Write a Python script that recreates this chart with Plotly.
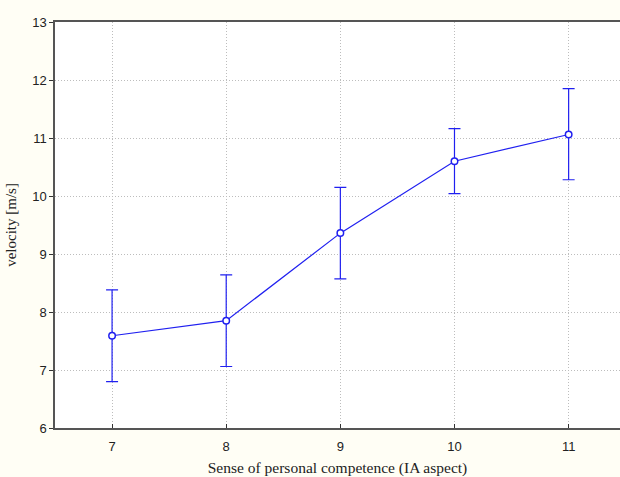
import plotly.graph_objects as go

x_vals = [7, 8, 9, 10, 11]
means = [7.59, 7.85, 9.36, 10.60, 11.06]
upper = [8.38, 8.64, 10.15, 11.16, 11.85]
lower = [6.80, 7.06, 8.57, 10.04, 10.28]
x_ticks = [7, 8, 9, 10, 11]
y_ticks = [6, 7, 8, 9, 10, 11, 12, 13]

err_plus = [u - m for u, m in zip(upper, means)]
err_minus = [m - l for m, l in zip(means, lower)]

blue = "#2020F0"
fig = go.Figure()
fig.add_trace(go.Scatter(
    x=x_vals, y=means, mode="lines+markers",
    line=dict(color=blue, width=1.2),
    marker=dict(symbol="circle", size=6.5, color="white", line=dict(color=blue, width=1.5)),
    error_y=dict(type="data", symmetric=False, array=err_plus, arrayminus=err_minus,
                 color=blue, thickness=1.2, width=6),
    showlegend=False,
))

fig.update_layout(
    width=620, height=477,
    margin=dict(l=55, r=0, t=22, b=49),
    paper_bgcolor="#FFFEF5",
    plot_bgcolor="white",
    xaxis=dict(
        range=[6.5, 11.45], tickvals=x_ticks, ticktext=[str(v) for v in x_ticks],
        showgrid=True, gridcolor="#BDBDBD", griddash="1px,2px", gridwidth=1,
        showline=True, linecolor="#555555", linewidth=1.5, mirror=True,
        ticks="inside", ticklen=4, tickcolor="#333333",
        ticklabelstandoff=6,
        tickfont=dict(family="Liberation Sans, Arial", size=13, color="#222222"),
        title=dict(text="Sense of personal competence (IA aspect)",
                   font=dict(family="Liberation Serif, Times New Roman", size=15.5, color="#222222"),
                   standoff=10),
        zeroline=False,
    ),
    yaxis=dict(
        range=[6, 13], tickvals=y_ticks,
        showgrid=True, gridcolor="#BDBDBD", griddash="1px,2px", gridwidth=1,
        showline=True, linecolor="#555555", linewidth=1.5,
        ticks="outside", ticklen=4, tickcolor="#333333",
        tickfont=dict(family="Liberation Sans, Arial", size=13, color="#222222"),
        title=dict(text="velocity [m/s]",
                   font=dict(family="Liberation Serif, Times New Roman", size=15, color="#222222"),
                   standoff=12),
        zeroline=False,
    ),
)

fig.write_html("out.html")
